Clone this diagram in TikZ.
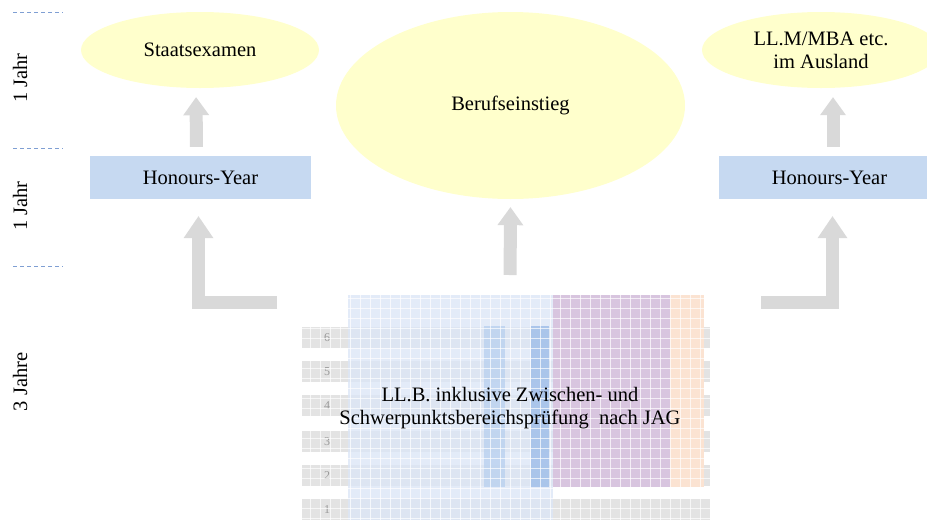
\documentclass[tikz,border=0pt]{standalone}
\usepackage{fontspec}
\setmainfont{Liberation Serif}
\usetikzlibrary{shapes.geometric,arrows.meta,positioning}
\definecolor{goalyellow}{HTML}{FFFFCC}
\definecolor{honblue}{HTML}{C6D9F1}
\definecolor{arrowgray}{HTML}{D9D9D9}
\definecolor{markblue}{HTML}{7F9FD3}
\definecolor{bandgray}{HTML}{E3E3E3}
\definecolor{llbblue}{HTML}{DCE6F6}
\definecolor{barblue}{HTML}{BBD1EF}
\definecolor{bardark}{HTML}{9EBDE8}
\definecolor{spbpurple}{HTML}{D8C5DF}
\definecolor{spborange}{HTML}{FBE3D2}
\tikzstyle{goal} = [ellipse,fill=goalyellow,inner sep=0pt,minimum width=238pt,minimum height=76pt,align=center]
\tikzstyle{honours} = [rectangle,fill=honblue,inner sep=0pt,minimum width=221pt,minimum height=43pt]
\tikzstyle{uparrow} = [draw=arrowgray,line width=13pt,-{Triangle[width=26pt,length=18pt,line width=0pt]}]
\tikzstyle{larrow} = [draw=arrowgray,line width=13pt,-{Triangle[width=30pt,length=22pt,line width=0pt]}]
\tikzstyle{yearmark} = [markblue,line width=0.8pt,dash pattern=on 4pt off 3pt]

\begin{document}
\begin{tikzpicture}[x=1pt,y=-1pt,font=\fontsize{20.5}{23}\selectfont]
\useasboundingbox (0,0) rectangle (927,520);

% years
\foreach \y in {12,148,266}
  \draw[yearmark] (13,\y) -- (63,\y);
\node[rotate=90] (yearone) at (20,78) {1 Jahr};
\node[rotate=90] (yeartwo) at (20,206) {1 Jahr};
\node[rotate=90] (yearthree) at (20,382) {3 Jahre};

% faded chart
\foreach \t/\n in {327/6,361/5,395/4,431/3,465/2,499/1} {
  \fill[bandgray] (302,\t) rectangle (710,\t+21);
  \node[text=gray!80,font=\fontsize{12}{12}\selectfont] at (327,\t+10.5) {\n};
}
\fill[llbblue,opacity=0.8] (348,295) rectangle (553,520);
\fill[barblue,opacity=0.8] (484,326) rectangle (505,487);
\fill[bardark,opacity=0.8] (531,326) rectangle (549,487);
\fill[spbpurple] (553,295) rectangle (670,487);
\fill[spborange] (670,295) rectangle (704,487);
\foreach \x in {300,310,...,710}
  \draw[white,line width=1pt,opacity=0.7] (\x,294) -- (\x,520);
\foreach \y in {298,308,...,518}
  \draw[white,line width=1pt,opacity=0.7] (300,\y) -- (712,\y);

% goals
\node[goal] (staat) at (200,50) {Staatsexamen};
\node[goal,minimum width=349pt,minimum height=187pt] (beruf) at (510.5,105.5) {Berufseinstieg};
\node[goal] (ausland) at (821,50) {LL.M/MBA etc.\\im Ausland};

\node[honours] (hyleft) at (200.5,177.5) {Honours-Year};
\node[honours] (hyright) at (829.5,177.5) {Honours-Year};

\node[align=center] (llb) at (510,408.5) {LL.B. inklusive Zwischen- und\\Schwerpunktsbereichspr\"ufung\ \ nach JAG};

% arrows
\coordinate (charttop) at (510,295);
\coordinate (lstartleft) at (277,302.5);
\coordinate (lstartright) at (761,302.5);
\draw[uparrow,shorten <=9pt,shorten >=9pt] ([xshift=-4pt]hyleft.north) -- ([xshift=-4pt]staat.south);
\draw[uparrow,shorten <=9pt,shorten >=9pt] ([xshift=3.5pt]hyright.north) -- ([xshift=3.5pt]hyright.north |- ausland.south);
\draw[uparrow,shorten <=20pt,shorten >=8pt] (charttop) -- (beruf.south);
\draw[larrow,shorten >=17pt] (lstartleft) -| ([xshift=-2pt]hyleft.south);
\draw[larrow,shorten >=17pt] (lstartright) -| ([xshift=3pt]hyright.south);
\end{tikzpicture}
\end{document}
